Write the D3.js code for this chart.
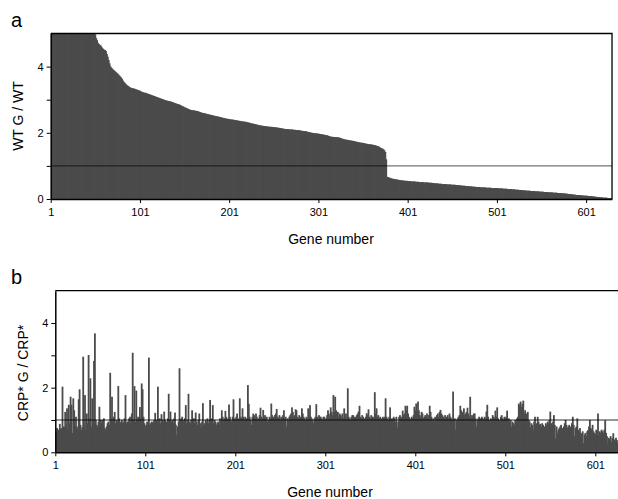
<!DOCTYPE html>
<html>
<head>
<meta charset="utf-8">
<script src="https://cdnjs.cloudflare.com/ajax/libs/d3/7.8.5/d3.min.js"></script>
<style>
  body { margin: 0; background: #fff; }
  text { font-family: "Liberation Sans", Arial, sans-serif; fill: #000; }
</style>
</head>
<body>
<div id="chart"></div>
<script>
// Gene numbers shown on the x axis
const geneTicks = [1, 101, 201, 301, 401, 501, 601];
const ratioTicks = [0, 1, 2, 3, 4];
const ratioLabels = [0, 2, 4];

// Panel a: WT G / WT, genes sorted by ratio (first 49 are off the top of the scale)
const wtRatio = [
  5,5,5,5,5,5,5,5,5,5, 5,5,5,5,5,5,5,5,5,5, 5,5,5,5,5,5,5,5,5,5, 5,5,5,5,5,5,5,5,5,5,
  5,5,5,5,5,5,5,5,5,4.97,
  4.86,4.80,4.72,4.68,4.66,4.64,4.60,4.56,4.53,4.51,
  4.50,4.47,4.38,4.30,4.20,4.10,4.01,3.97,3.94,3.91,
  3.89,3.86,3.84,3.81,3.79,3.76,3.73,3.70,3.67,3.63,
  3.58,3.54,3.51,3.48,3.45,3.43,3.41,3.39,3.37,3.36,
  3.35,3.34,3.34,3.33,3.32,3.31,3.30,3.29,3.28,3.27,
  3.25,3.24,3.23,3.22,3.21,3.21,3.20,3.19,3.18,3.17,
  3.16,3.15,3.14,3.13,3.12,3.11,3.10,3.09,3.08,3.07,
  3.06,3.05,3.04,3.03,3.02,3.01,3.00,2.99,2.98,2.97,
  2.97,2.96,2.95,2.95,2.94,2.93,2.92,2.91,2.90,2.89,
  2.88,2.87,2.86,2.86,2.84,2.83,2.81,2.80,2.79,2.77,
  2.76,2.75,2.74,2.72,2.71,2.70,2.69,2.69,2.68,2.68,
  2.67,2.67,2.66,2.66,2.65,2.64,2.63,2.62,2.61,2.60,
  2.60,2.59,2.58,2.58,2.57,2.56,2.56,2.55,2.54,2.54,
  2.53,2.52,2.52,2.51,2.50,2.50,2.49,2.49,2.48,2.47,
  2.47,2.46,2.45,2.45,2.44,2.43,2.43,2.42,2.42,2.41,
  2.41,2.40,2.40,2.40,2.39,2.39,2.38,2.38,2.37,2.37,
  2.36,2.36,2.35,2.35,2.34,2.34,2.34,2.33,2.33,2.32,
  2.31,2.31,2.30,2.29,2.29,2.28,2.27,2.27,2.26,2.25,
  2.25,2.24,2.23,2.23,2.22,2.22,2.21,2.21,2.20,2.20,
  2.20,2.19,2.19,2.19,2.18,2.18,2.18,2.18,2.17,2.17,
  2.17,2.16,2.16,2.16,2.15,2.15,2.14,2.14,2.13,2.13,
  2.12,2.12,2.11,2.11,2.11,2.11,2.10,2.10,2.10,2.10,
  2.10,2.09,2.09,2.09,2.08,2.08,2.08,2.08,2.07,2.07,
  2.06,2.06,2.05,2.05,2.05,2.04,2.04,2.03,2.02,2.02,
  2.01,2.00,2.00,1.99,1.99,1.99,1.98,1.98,1.98,1.97,
  1.97,1.96,1.96,1.95,1.95,1.94,1.94,1.93,1.93,1.92,
  1.91,1.90,1.89,1.88,1.88,1.88,1.87,1.87,1.87,1.87,
  1.86,1.86,1.86,1.85,1.84,1.83,1.82,1.81,1.80,1.80,
  1.79,1.79,1.78,1.78,1.77,1.77,1.76,1.76,1.75,1.75,
  1.74,1.73,1.73,1.72,1.72,1.71,1.70,1.70,1.70,1.69,
  1.69,1.68,1.67,1.67,1.66,1.66,1.65,1.65,1.65,1.64,
  1.64,1.63,1.63,1.62,1.61,1.60,1.59,1.58,1.56,1.54,
  1.53,1.52,1.50,1.47,1.42,1.20,0.67,0.66,0.65,0.64,
  0.63,0.62,0.61,0.61,0.60,0.60,0.59,0.59,0.58,0.58,
  0.57,0.57,0.56,0.56,0.56,0.55,0.55,0.55,0.55,0.54,
  0.54,0.54,0.54,0.53,0.53,0.53,0.53,0.53,0.52,0.52,
  0.52,0.52,0.51,0.51,0.51,0.51,0.51,0.50,0.50,0.50,
  0.50,0.50,0.50,0.49,0.49,0.49,0.49,0.48,0.48,0.48,
  0.47,0.47,0.47,0.47,0.46,0.46,0.46,0.46,0.45,0.45,
  0.45,0.45,0.45,0.44,0.44,0.44,0.44,0.44,0.43,0.43,
  0.43,0.43,0.43,0.42,0.42,0.42,0.42,0.41,0.41,0.41,
  0.40,0.40,0.40,0.40,0.39,0.39,0.39,0.39,0.38,0.38,
  0.38,0.38,0.37,0.37,0.37,0.37,0.36,0.36,0.36,0.36,
  0.36,0.35,0.35,0.35,0.35,0.35,0.35,0.34,0.34,0.34,
  0.34,0.34,0.34,0.33,0.33,0.33,0.33,0.33,0.33,0.33,
  0.33,0.32,0.32,0.32,0.32,0.32,0.31,0.31,0.31,0.31,
  0.31,0.30,0.30,0.30,0.30,0.30,0.29,0.29,0.29,0.29,
  0.28,0.28,0.28,0.28,0.27,0.27,0.27,0.27,0.26,0.26,
  0.26,0.26,0.25,0.25,0.25,0.25,0.25,0.24,0.24,0.24,
  0.24,0.24,0.23,0.23,0.23,0.23,0.23,0.22,0.22,0.22,
  0.22,0.22,0.21,0.21,0.21,0.21,0.21,0.20,0.20,0.20,
  0.20,0.20,0.19,0.19,0.19,0.19,0.19,0.18,0.18,0.18,
  0.18,0.18,0.17,0.17,0.17,0.17,0.16,0.16,0.16,0.15,
  0.15,0.15,0.14,0.14,0.14,0.13,0.13,0.13,0.12,0.12,
  0.12,0.12,0.11,0.11,0.11,0.11,0.10,0.10,0.10,0.10,
  0.10,0.09,0.09,0.09,0.09,0.09,0.08,0.08,0.07,0.07,
  0.07,0.06,0.06,0.06,0.05,0.05,0.05,0.05,0.04,0.04,
  0.04,0.04,0.04,0.03,0.03,0.03,0.03,0.02,0.02
];

// Panel b: CRP* G / CRP*, same gene order
const crpRatio = [
  0.62,0.75,0.54,0.70,0.88,0.72,0.75,2.03,0.80,0.78,
  1.25,0.85,1.36,0.70,1.47,0.90,1.72,1.47,0.60,1.67,
  1.30,0.80,1.10,0.80,0.72,1.64,1.95,0.85,0.69,0.78,
  2.96,0.85,1.77,0.69,1.20,0.90,3.01,1.05,2.29,0.80,
  1.67,0.95,2.83,3.68,1.00,0.85,0.80,0.95,1.41,1.00,
  0.90,1.00,0.85,1.05,0.75,0.70,0.80,0.90,0.95,0.85,
  2.46,1.00,1.72,0.95,1.10,1.25,0.90,1.00,0.95,2.05,
  1.05,0.90,0.95,1.00,0.90,0.95,1.05,1.77,0.90,0.95,
  0.95,1.05,1.10,0.90,1.20,3.08,1.00,2.05,0.95,1.91,
  1.00,1.10,0.90,1.40,1.05,2.13,1.95,1.10,0.90,0.80,
  0.85,0.95,0.90,2.93,0.85,0.90,0.95,0.92,0.95,1.00,
  1.22,0.95,1.00,2.03,0.95,1.05,0.90,1.18,1.00,0.95,
  1.26,1.00,0.90,0.95,1.05,1.81,1.00,1.26,0.95,1.00,
  0.90,1.05,1.23,0.85,0.53,0.80,0.95,2.60,1.00,1.05,
  1.10,0.95,1.00,1.05,1.46,0.90,1.00,1.81,0.95,0.90,
  1.00,1.30,0.95,1.05,0.90,1.23,0.95,0.85,1.00,1.20,
  0.90,0.75,0.95,1.52,0.85,0.90,1.00,0.95,1.05,0.90,
  1.00,1.62,1.05,0.95,1.46,0.90,1.00,0.95,0.85,0.90,
  0.95,0.85,1.05,0.95,1.30,1.10,1.00,1.05,1.28,1.10,
  1.00,1.05,1.48,1.10,1.00,0.95,1.10,1.64,1.05,1.00,
  1.10,1.20,1.05,1.00,1.67,1.10,1.05,1.36,1.10,1.00,
  1.10,1.05,0.95,2.08,1.50,1.10,1.00,0.85,1.10,1.20,
  1.15,1.05,1.20,1.10,1.00,1.05,1.15,1.38,1.10,1.05,
  1.31,1.10,1.15,1.05,1.10,0.95,1.00,1.10,1.05,1.51,
  1.15,1.10,1.05,1.15,1.20,1.34,1.10,1.05,1.15,1.00,
  1.10,1.05,1.15,1.30,1.05,1.10,0.80,1.05,1.00,1.10,
  1.15,1.20,1.39,1.25,1.10,1.15,1.33,1.30,1.10,1.05,
  1.15,1.10,1.05,1.36,1.20,1.10,1.05,1.00,1.10,1.05,
  1.36,1.15,1.46,1.10,1.05,1.00,0.90,1.05,1.10,1.49,
  1.10,1.05,1.15,1.10,1.10,1.05,1.00,1.10,1.10,1.00,
  1.05,1.15,1.30,1.20,1.10,1.39,1.25,1.15,1.77,1.25,
  1.72,1.30,1.15,1.25,1.10,1.20,1.15,1.10,1.20,1.05,
  1.36,1.10,1.20,1.00,1.98,1.10,1.05,1.00,1.10,1.15,
  1.15,1.10,1.05,1.10,1.15,1.20,1.26,1.44,1.10,1.05,
  1.15,1.10,1.05,1.00,1.10,1.21,1.15,1.33,1.10,1.05,
  1.15,1.10,1.10,1.05,1.86,1.20,1.36,1.10,1.15,1.05,
  1.10,1.05,1.00,1.10,1.05,1.10,1.67,1.10,1.05,1.00,
  1.10,1.39,1.05,1.00,1.05,1.10,1.05,0.95,1.10,0.77,
  0.95,1.10,1.15,1.05,1.10,1.29,1.15,1.20,1.44,1.30,
  1.44,1.20,1.10,1.05,1.00,1.10,1.05,1.15,1.41,1.30,
  1.51,1.25,1.57,1.30,1.15,1.10,1.25,1.20,1.05,1.10,
  1.15,1.10,1.20,1.05,1.15,1.44,1.25,1.10,1.00,1.05,
  0.95,1.10,1.05,1.15,1.20,1.10,1.25,1.31,1.20,1.15,
  1.10,1.05,1.15,1.00,1.10,1.15,1.05,1.20,1.10,1.05,
  1.00,1.88,0.95,1.05,0.70,1.00,1.05,1.10,1.15,1.44,
  1.30,1.20,1.25,1.36,1.15,1.20,1.25,1.38,1.20,1.10,
  1.72,1.05,1.15,1.10,1.20,1.20,1.05,0.80,1.00,1.05,
  1.10,1.05,1.00,1.10,1.05,1.00,1.10,1.05,1.26,1.47,
  1.10,1.00,0.95,1.05,1.00,1.15,1.10,1.05,1.29,1.10,
  1.39,1.05,1.00,0.95,1.10,1.15,1.05,1.00,1.10,1.05,
  1.10,1.29,1.00,1.05,0.95,1.00,0.80,0.95,0.90,0.85,
  1.00,0.95,1.05,1.10,1.51,1.45,1.57,1.40,1.50,1.60,
  1.20,1.30,1.10,1.20,1.25,1.00,0.95,0.78,0.90,0.85,
  0.70,0.95,1.10,0.85,0.90,1.10,0.95,0.85,0.88,0.80,
  0.90,0.85,0.75,0.80,0.90,0.85,0.95,0.90,1.00,1.26,
  0.90,0.85,0.95,1.15,0.85,0.43,0.80,0.60,0.70,0.75,
  0.80,0.85,0.70,0.75,0.80,0.90,1.00,0.85,0.75,0.80,
  0.85,0.75,0.80,0.90,1.10,0.85,0.50,0.75,0.80,1.05,
  0.70,0.64,0.75,0.60,0.55,0.65,0.28,0.55,0.60,0.50,
  0.65,0.69,0.80,1.00,0.75,0.70,0.85,0.65,0.60,0.55,
  0.70,0.65,1.20,0.50,0.65,0.60,0.70,0.65,0.60,0.70,
  0.99,0.60,0.50,0.25,0.45,0.40,0.50,0.33,0.45,0.59,
  0.40,0.35,0.45,0.38,0.30,0.28,0.35,0.30,0.25
];

const width = 618;
const height = 499;
const barColor = "#4b4b4b";

const svg = d3.select("#chart")
  .append("svg")
  .attr("width", width)
  .attr("height", height);

function drawPanel(cfg) {
  const n = cfg.values.length;
  const right = cfg.left + n * cfg.step;

  const x = d3.scaleLinear().domain([1, n + 1]).range([cfg.left, right]);
  const y = d3.scaleLinear().domain([0, 5]).range([cfg.bottom, cfg.top]);

  const g = svg.append("g");

  g.append("clipPath")
    .attr("id", cfg.id + "-clip")
    .append("rect")
    .attr("x", cfg.left)
    .attr("y", cfg.top)
    .attr("width", right - cfg.left)
    .attr("height", cfg.bottom - cfg.top);

  // bars overlap by about a pixel so the antialiased edges don't stripe
  g.append("g")
    .attr("clip-path", `url(#${cfg.id}-clip)`)
    .selectAll("rect")
    .data(cfg.values)
    .join("rect")
    .attr("x", (d, i) => x(i + 1))
    .attr("width", cfg.step + 0.9)
    .attr("y", d => y(Math.min(d, 5.2)))
    .attr("height", d => y(0) - y(Math.min(d, 5.2)))
    .attr("fill", barColor);

  // ratio = 1 reference line
  g.append("line")
    .attr("x1", cfg.left).attr("x2", right)
    .attr("y1", y(1)).attr("y2", y(1))
    .attr("stroke", "#000")
    .attr("stroke-opacity", 0.55)
    .attr("stroke-width", 1.3);

  // top and right border
  g.append("path")
    .attr("d", `M${cfg.left},${y(5)}H${right}V${y(0)}`)
    .attr("fill", "none")
    .attr("stroke", "#000")
    .attr("stroke-width", 1.3);

  const yAxis = d3.axisLeft(y)
    .tickValues(ratioTicks)
    .tickSize(4)
    .tickSizeOuter(0)
    .tickFormat(d => ratioLabels.includes(d) ? d : "");

  g.append("g")
    .attr("transform", `translate(${cfg.left},0)`)
    .call(yAxis)
    .call(a => a.select(".domain").attr("stroke-width", 1.5))
    .call(a => a.selectAll("text").attr("font-size", 11).attr("x", -7));

  const xAxis = d3.axisBottom(x)
    .tickValues(geneTicks)
    .tickSize(4)
    .tickSizeOuter(0)
    .tickFormat(d3.format("d"));

  g.append("g")
    .attr("transform", `translate(0,${cfg.bottom})`)
    .call(xAxis)
    .call(a => a.select(".domain").attr("stroke-width", 1.5))
    .call(a => a.selectAll("text").attr("font-size", 11).attr("y", 9));

  g.selectAll(".tick line").attr("stroke", "#000");
  g.selectAll(".tick text").attr("font-family", "Liberation Sans, Arial, sans-serif").attr("fill", "#000");

  g.append("text")
    .attr("x", cfg.titleX)
    .attr("y", cfg.bottom + 44.5)
    .attr("text-anchor", "middle")
    .attr("font-size", 14)
    .text("Gene number");

  g.append("text")
    .attr("transform", `translate(${cfg.yTitleX},${cfg.yTitleY}) rotate(-90)`)
    .attr("text-anchor", "middle")
    .attr("font-size", 14)
    .text(cfg.yTitle);

  g.append("text")
    .attr("x", 11)
    .attr("y", cfg.letterY)
    .attr("font-size", 20)
    .text(cfg.letter);
}

drawPanel({
  id: "pa", letter: "a", letterY: 27, values: wtRatio,
  left: 50.7, step: 0.8924, top: 33.5, bottom: 199,
  yTitle: "WT G / WT", yTitleX: 23, yTitleY: 116, titleX: 331
});

drawPanel({
  id: "pb", letter: "b", letterY: 284, values: crpRatio,
  left: 55.3, step: 0.9, top: 290.7, bottom: 452.3,
  yTitle: "CRP* G / CRP*", yTitleX: 27.5, yTitleY: 373, titleX: 330
});
</script>
</body>
</html>
